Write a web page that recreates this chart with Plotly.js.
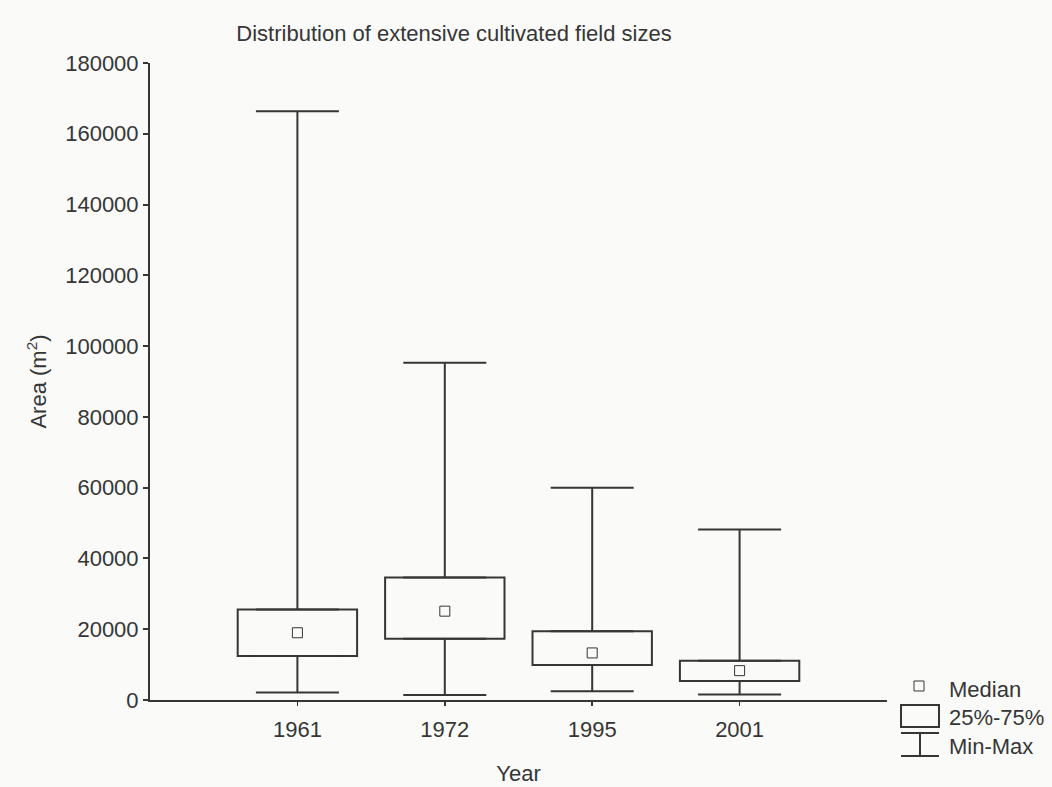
<!DOCTYPE html>
<html>
<head>
<meta charset="utf-8">
<script src="https://cdn.plot.ly/plotly-3.0.1.min.js"></script>
<style>
  html, body { margin: 0; padding: 0; background: #fafaf8; }
  #chart { width: 1052px; height: 787px; }
</style>
</head>
<body>
<div id="chart"></div>
<script>
// ---- Data ----
const years = ['1961', '1972', '1995', '2001'];
const minValues = [2100, 1400, 2500, 1550];
const q1Values = [12400, 17300, 9900, 5400];
const medianValues = [19000, 25100, 13300, 8300];
const q3Values = [25600, 34600, 19400, 11100];
const maxValues = [166400, 95300, 60000, 48200];
const yTickValues = [0, 20000, 40000, 60000, 80000, 100000, 120000, 140000, 160000, 180000];
const legendLabels = ['Median', '25%-75%', 'Min-Max'];

// ---- Styling ----
const ink = '#363636';
const bg = '#fafaf8';
const fontFamily = '"Liberation Sans", Arial, sans-serif';
const fontSize = 22;

const xIdx = years.map((_, i) => i);

// Boxes (25%-75%) as floating bars
const boxTrace = {
  type: 'bar',
  x: xIdx,
  base: q1Values,
  y: q3Values.map((v, i) => v - q1Values[i]),
  width: 0.81,
  marker: { color: bg, line: { color: ink, width: 2 } },
  hoverinfo: 'skip',
  showlegend: false
};

// Upper whiskers (Q3 -> max)
const upperWhisker = {
  type: 'scatter',
  mode: 'markers',
  x: xIdx,
  y: q3Values,
  marker: { opacity: 0, size: 1 },
  error_y: {
    type: 'data', symmetric: false,
    array: maxValues.map((v, i) => v - q3Values[i]),
    arrayminus: q3Values.map(() => 0),
    width: 41.5, thickness: 2, color: ink
  },
  hoverinfo: 'skip',
  showlegend: false
};

// Lower whiskers (min -> Q1)
const lowerWhisker = {
  type: 'scatter',
  mode: 'markers',
  x: xIdx,
  y: q1Values,
  marker: { opacity: 0, size: 1 },
  error_y: {
    type: 'data', symmetric: false,
    array: q1Values.map(() => 0),
    arrayminus: q1Values.map((v, i) => v - minValues[i]),
    width: 41.5, thickness: 2, color: ink
  },
  hoverinfo: 'skip',
  showlegend: false
};

// Medians
const medianTrace = {
  type: 'scatter',
  mode: 'markers',
  x: xIdx,
  y: medianValues,
  marker: { symbol: 'square-open', size: 10, color: ink, line: { width: 1, color: ink } },
  hoverinfo: 'skip',
  showlegend: false
};

// ---- Custom legend (paper coordinates) ----
const L = 150, R = 887, T = 63, B = 700;
const px = x => (x - L) / (R - L);
const py = y => (B - y) / (B - T);

const legendShapes = [
  { type: 'rect', xref: 'paper', yref: 'paper', x0: px(914), x1: px(924), y0: py(681), y1: py(691), line: { color: ink, width: 1 } },
  { type: 'rect', xref: 'paper', yref: 'paper', x0: px(901), x1: px(939), y0: py(705), y1: py(727), line: { color: ink, width: 2 } },
  { type: 'line', xref: 'paper', yref: 'paper', x0: px(901), x1: px(939), y0: py(733), y1: py(733), line: { color: ink, width: 2 } },
  { type: 'line', xref: 'paper', yref: 'paper', x0: px(901), x1: px(939), y0: py(756), y1: py(756), line: { color: ink, width: 2 } },
  { type: 'line', xref: 'paper', yref: 'paper', x0: px(920), x1: px(920), y0: py(733), y1: py(756), line: { color: ink, width: 2 } }
];
const legendY = [689, 717, 746];
const legendAnnotations = legendLabels.map((t, i) => ({
  text: t, xref: 'paper', yref: 'paper', x: px(947), y: py(legendY[i]),
  xanchor: 'left', yanchor: 'middle', showarrow: false,
  font: { family: fontFamily, size: fontSize, color: ink }
}));

const layout = {
  width: 1052, height: 787,
  paper_bgcolor: bg, plot_bgcolor: bg,
  margin: { l: L, r: 1052 - R, t: T, b: 787 - B, pad: 0 },
  font: { family: fontFamily, size: fontSize, color: ink },
  showlegend: false,
  title: {
    text: 'Distribution of extensive cultivated field sizes',
    font: { family: fontFamily, size: fontSize, color: ink },
    x: 454 / 1052, xref: 'container', xanchor: 'center',
    y: 1 - 33 / 787, yref: 'container', yanchor: 'middle'
  },
  xaxis: {
    range: [-1, 4],
    tickmode: 'array', tickvals: xIdx, ticktext: years,
    showline: true, linecolor: ink, linewidth: 2,
    ticks: 'outside', ticklen: 4, tickwidth: 1.5, tickcolor: ink,
    ticklabelstandoff: 5,
    showgrid: false, zeroline: false,
    title: { text: 'Year', standoff: 24, font: { family: fontFamily, size: fontSize, color: ink } }
  },
  yaxis: {
    range: [0, 180000],
    tickmode: 'array', tickvals: yTickValues,
    ticktext: yTickValues.map(v => String(v)),
    showline: true, linecolor: ink, linewidth: 2,
    ticks: 'outside', ticklen: 5, tickwidth: 2, tickcolor: ink,
    showgrid: false, zeroline: false,
    title: { text: 'Area (m<sup>2</sup>)', standoff: 12, font: { family: fontFamily, size: fontSize, color: ink } }
  },
  shapes: legendShapes,
  annotations: legendAnnotations,
  bargap: 0
};

Plotly.newPlot('chart', [boxTrace, upperWhisker, lowerWhisker, medianTrace], layout, { displayModeBar: false, staticPlot: true });
</script>
</body>
</html>
